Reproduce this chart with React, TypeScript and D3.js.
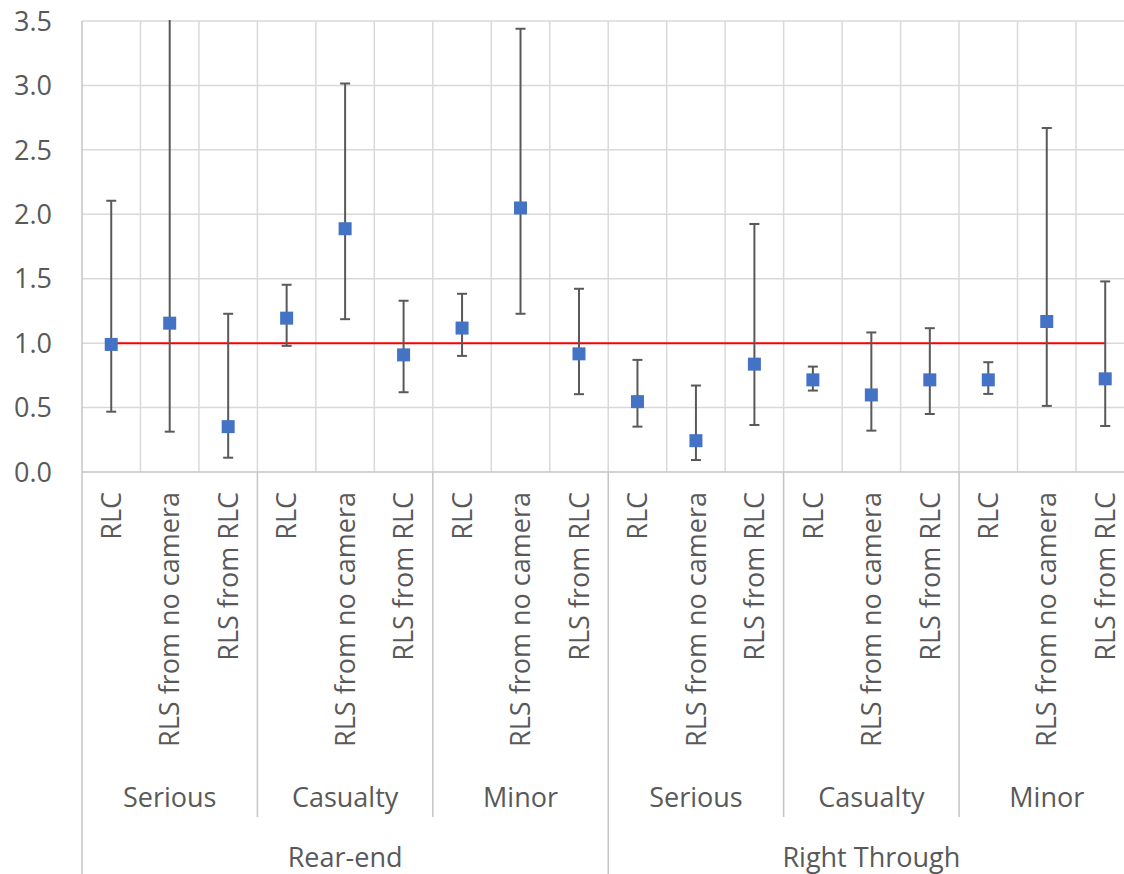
import React, { useRef, useEffect } from 'react';
import * as d3 from 'd3';

// x categories: outcome / severity / crash type
const outcomes = ['RLC', 'RLS from no camera', 'RLS from RLC'];
const severities = ['Serious', 'Casualty', 'Minor'];
const crashTypes = ['Rear-end', 'Right Through'];

// point estimates and confidence limits, in category order
const estimates = [0.99, 1.155, 0.352, 1.194, 1.888, 0.909, 1.117, 2.049, 0.917, 0.546, 0.243, 0.837, 0.715, 0.598, 0.715, 0.715, 1.168, 0.723];
const lowerCI = [0.468, 0.313, 0.111, 0.979, 1.186, 0.619, 0.901, 1.228, 0.604, 0.352, 0.093, 0.365, 0.632, 0.321, 0.45, 0.606, 0.513, 0.357];
const upperCI = [2.105, 3.9, 1.228, 1.453, 3.015, 1.329, 1.383, 3.44, 1.422, 0.87, 0.671, 1.925, 0.818, 1.083, 1.116, 0.852, 2.67, 1.479];

const yTicks = [0, 0.5, 1, 1.5, 2, 2.5, 3, 3.5];
const referenceValue = 1.0;

const App: React.FC = () => {
  const svgRef = useRef<SVGSVGElement | null>(null);
  const width = 1124;
  const height = 874;

  useEffect(() => {
    if (!svgRef.current) return;
    const svg = d3.select(svgRef.current);
    svg.selectAll('*').remove();

    const font = '"Open Sans", "Noto Sans", sans-serif';
    const textColor = '#595959';
    const left = 82;
    const catW = 58.47;
    const nCat = crashTypes.length * severities.length * outcomes.length;
    const plotTop = 21;
    const plotBottom = 472;

    const x = d3.scaleBand<number>()
      .domain(d3.range(nCat))
      .range([left, left + nCat * catW])
      .padding(0);
    const y = d3.scaleLinear().domain([0, 3.5]).range([plotBottom, plotTop]);
    const cx = (i: number) => (x(i) || 0) + x.bandwidth() / 2;

    svg.append('defs').append('clipPath').attr('id', 'plot-clip')
      .append('rect')
      .attr('x', left - 2).attr('y', plotTop - 1)
      .attr('width', nCat * catW + 4).attr('height', plotBottom - plotTop + 2);

    // horizontal grid
    svg.append('g').selectAll('line').data(yTicks.filter(d => d > 0)).enter().append('line')
      .attr('x1', left).attr('x2', left + nCat * catW)
      .attr('y1', d => y(d)).attr('y2', d => y(d))
      .attr('stroke', '#d9d9d9').attr('stroke-width', 1.5);

    // vertical grid between categories
    svg.append('g').selectAll('line').data(d3.range(1, nCat + 1)).enter().append('line')
      .attr('x1', d => left + d * catW).attr('x2', d => left + d * catW)
      .attr('y1', plotTop).attr('y2', plotBottom)
      .attr('stroke', '#d9d9d9').attr('stroke-width', 1.5);

    // axis lines
    svg.append('line')
      .attr('x1', left).attr('x2', left + nCat * catW)
      .attr('y1', plotBottom).attr('y2', plotBottom)
      .attr('stroke', '#c4c4c4').attr('stroke-width', 1.5);
    svg.append('line')
      .attr('x1', left).attr('x2', left)
      .attr('y1', plotTop).attr('y2', height)
      .attr('stroke', '#c4c4c4').attr('stroke-width', 1.5);

    // y tick labels
    svg.append('g').selectAll('text').data(yTicks).enter().append('text')
      .attr('x', 52).attr('y', d => y(d))
      .attr('dy', '0.36em')
      .attr('text-anchor', 'end')
      .attr('font-family', font).attr('font-size', 27).attr('fill', textColor)
      .text(d => d3.format('.1f')(d));

    // category label separators
    const perType = severities.length * outcomes.length;
    const sepLines: { at: number; to: number }[] = [];
    for (let t = 0; t <= crashTypes.length; t++) {
      for (let s = 0; s < severities.length; s++) {
        const idx = t * perType + s * outcomes.length;
        if (idx > nCat) continue;
        if (s === 0) sepLines.push({ at: idx, to: height });
        else if (t < crashTypes.length) sepLines.push({ at: idx, to: 817 });
      }
    }
    svg.append('g').selectAll('line').data(sepLines.filter(d => d.at > 0)).enter().append('line')
      .attr('x1', d => left + d.at * catW).attr('x2', d => left + d.at * catW)
      .attr('y1', plotBottom).attr('y2', d => d.to)
      .attr('stroke', '#c4c4c4').attr('stroke-width', 1.5);

    // rotated outcome labels
    svg.append('g').selectAll('text').data(d3.range(nCat)).enter().append('text')
      .attr('transform', d => `translate(${cx(d)},492) rotate(-90)`)
      .attr('dy', '0.36em')
      .attr('text-anchor', 'end')
      .attr('font-family', font).attr('font-size', 27).attr('fill', textColor)
      .text(d => outcomes[d % outcomes.length]);

    // severity labels
    const sevIdx = d3.range(crashTypes.length * severities.length);
    svg.append('g').selectAll('text').data(sevIdx).enter().append('text')
      .attr('x', d => left + (d * outcomes.length + outcomes.length / 2) * catW)
      .attr('y', 797).attr('dy', '0.36em')
      .attr('text-anchor', 'middle')
      .attr('font-family', font).attr('font-size', 27).attr('fill', textColor)
      .text(d => severities[d % severities.length]);

    // crash type labels
    svg.append('g').selectAll('text').data(crashTypes).enter().append('text')
      .attr('x', (_, i) => left + (i * perType + perType / 2) * catW)
      .attr('y', 857).attr('dy', '0.36em')
      .attr('text-anchor', 'middle')
      .attr('font-family', font).attr('font-size', 27).attr('fill', textColor)
      .text(d => d);

    // reference line at 1.0
    svg.append('line')
      .attr('x1', cx(0)).attr('x2', cx(nCat - 1))
      .attr('y1', y(referenceValue)).attr('y2', y(referenceValue))
      .attr('stroke', '#ff0000').attr('stroke-width', 2);

    const plot = svg.append('g').attr('clip-path', 'url(#plot-clip)');
    const idx = d3.range(nCat);
    const barColor = '#595959';

    // error bars
    plot.selectAll('.err').data(idx).enter().append('line')
      .attr('class', 'err')
      .attr('x1', d => cx(d)).attr('x2', d => cx(d))
      .attr('y1', d => y(lowerCI[d])).attr('y2', d => y(upperCI[d]))
      .attr('stroke', barColor).attr('stroke-width', 2);
    const caps = idx.flatMap(d => [lowerCI[d], upperCI[d]].map(v => ({ i: d, v })));
    plot.selectAll('.cap').data(caps).enter().append('line')
      .attr('class', 'cap')
      .attr('x1', d => cx(d.i) - 5).attr('x2', d => cx(d.i) + 5)
      .attr('y1', d => y(d.v)).attr('y2', d => y(d.v))
      .attr('stroke', barColor).attr('stroke-width', 2);

    // markers
    const size = 13;
    plot.selectAll('.pt').data(idx).enter().append('rect')
      .attr('class', 'pt')
      .attr('x', d => cx(d) - size / 2)
      .attr('y', d => y(estimates[d]) - size / 2)
      .attr('width', size).attr('height', size)
      .attr('fill', '#4472c4');
  }, []);

  return (
    <svg
      ref={svgRef}
      width={width}
      height={height}
      style={{ position: 'absolute', left: 0, top: 0, display: 'block', background: '#ffffff' }}
    />
  );
};

export default App;
